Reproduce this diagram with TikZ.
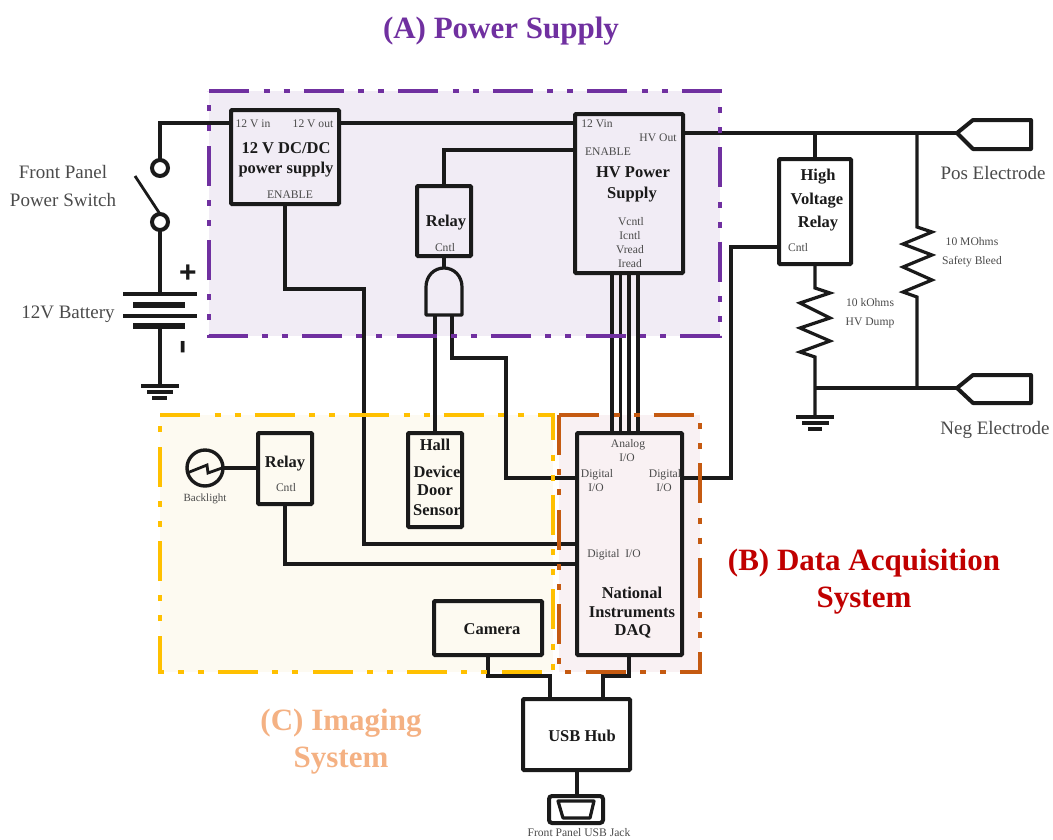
\documentclass[tikz,border=0pt]{standalone}
\usepackage{fontspec}
\setmainfont{Liberation Serif}
\setsansfont{Liberation Sans}
\definecolor{pA}{HTML}{7030A0}
\definecolor{pB}{HTML}{C00000}
\definecolor{pC}{HTML}{F4B183}
\definecolor{sY}{HTML}{FFC000}
\definecolor{sO}{HTML}{C55A11}
\definecolor{fP}{HTML}{F1ECF5}
\definecolor{fY}{HTML}{FDFAF1}
\definecolor{fO}{HTML}{F9F1F3}
\definecolor{ink}{HTML}{1A1A1A}
\definecolor{soft}{HTML}{4A4A4A}
\tikzset{
  wire/.style={draw=ink,line width=3.2pt,line join=miter},
  heavy/.style={draw=ink,line width=6pt},
  boxn/.style={draw=ink,line width=4pt,rounded corners=1pt,inner sep=0pt,outer sep=0pt,rectangle},
  region/.style={line width=4.8pt,dash pattern=on 40pt off 14.5pt on 6pt off 14pt on 6pt off 14pt},
  small/.style={inner sep=0pt,text=soft,text height=8pt,text depth=.5pt,font=\fontsize{11.6}{12}\selectfont},
  big/.style={inner sep=0pt,text=ink,text height=11.5pt,text depth=.7pt,font=\fontsize{16.5}{17}\selectfont\bfseries},
  lab/.style={inner sep=0pt,text=soft,text height=13.3pt,text depth=.8pt,font=\fontsize{19}{20}\selectfont},
  title/.style={inner sep=0pt,text height=21.7pt,text depth=1.2pt,font=\fontsize{31}{32}\selectfont\bfseries},
}
\newcommand{\mybox}[5]{\node[boxn,minimum width={(#4-#2)*1pt},minimum height={(#5-#3)*1pt}] (#1) at ({(#2+#4)/2},{(#3+#5)/2}) {};}
\begin{document}
\begin{tikzpicture}[x=1pt,y=-1pt]
\useasboundingbox (0,0) rectangle (1053,839);
% region fills
\fill[fP] (209,91) rectangle (720,336);
\fill[fY] (160,415) rectangle (553,672);
\fill[fO] (559,415) rectangle (700,672);
% boxes
\mybox{dc}{231}{110}{339}{204}
\mybox{hv}{575}{114}{683}{273}
\mybox{rel}{417}{186}{471}{256}
\mybox{hall}{408}{433}{462}{527}
\mybox{relb}{258}{433}{312}{504}
\mybox{cam}{434}{601}{542}{655}
\mybox{daq}{577}{433}{682}{655}
\mybox{hub}{523}{699}{630}{770}
\mybox{hvr}{779}{159}{851}{264}
\node[boxn,rounded corners=3pt,minimum width=54pt,minimum height=27pt] (jack) at (576,809.5) {};
% switch
\node[circle,draw=ink,line width=4pt,minimum size=16pt,inner sep=0pt,outer sep=0pt] (swt) at (160,168) {};
\node[circle,draw=ink,line width=4pt,minimum size=16pt,inner sep=0pt,outer sep=0pt] (swb) at (160,222) {};
\coordinate (armtop) at (135,176);
\draw[wire,line width=2.8pt] (armtop) -- (swb.north);
\coordinate (batp) at (160,294);
\coordinate (batn) at (160,326);
\coordinate (gndl) at (160,386);
\draw[wire] (swb.south) -- (batp);
\draw[wire] (123,294) -- (197,294);
\draw[heavy] (133,305) -- (185,305);
\draw[wire] (123,316) -- (197,316);
\draw[heavy] (133,326) -- (185,326);
\draw[wire] (batn) -- (gndl);
\draw[wire] (141,386) -- (179,386);
\draw[wire] (147,392) -- (173,392);
\draw[wire] (152,398) -- (167,398);
% power wiring
\draw[wire] (swt.north) -- (160,123) -- (dc.west |- 0,123);
\draw[wire] (dc.east |- 0,123) -- (hv.west |- 0,123);
\draw[wire] (hv.west |- 0,150) -- (444,150) -- (rel.north -| 444,0);
\draw[wire] (285,204) -- (285,289) -- (364,289) -- (364,544) -- (daq.west |- 0,544);
\draw[wire] (285,504) -- (285,564) -- (daq.west |- 0,564);
% AND gate
\draw[wire] (rel.south -| 444,0) -- (444,268);
\draw[wire,line join=round,fill=none] (426,315) -- (426,287) .. controls (426,276) and (434,268) .. (444,268) .. controls (454,268) and (462,276) .. (462,287) -- (462,315) -- cycle;
\draw[wire] (435,315) -- (hall.north -| 435,0);
\draw[wire] (452,315) -- (452,358) -- (506,358) -- (506,478) -- (daq.west |- 0,478);
\foreach \xx in {612,620.5,629,638}{\draw[wire] (hv.south -| \xx,0) -- (daq.north -| \xx,0);}
% backlight
\node[circle,draw=ink,line width=3.4pt,minimum size=36pt,inner sep=0pt,outer sep=0pt] (lamp) at (205,468) {};
\draw[wire,line width=2.8pt] (187,473) -- (207,465) -- (208,473) -- (222,468);
\draw[wire] (lamp.east) -- (relb.west |- lamp.east);
% USB
\draw[wire] (cam.south -| 488,0) -- (488,676) -- (550,676) -- (hub.north -| 550,0);
\draw[wire] (daq.south -| 629,0) -- (629,676) -- (603,676) -- (hub.north -| 603,0);
\draw[wire] (hub.south -| 577,0) -- (jack.north -| 577,0);
\draw[wire,line join=round] (558,801) -- (594,801) -- (590,818) -- (563,818) -- cycle;
% high-voltage side
\coordinate (posj) at (815,133);
\coordinate (bleedtop) at (917,133);
\node[draw=none,inner sep=0pt,minimum size=0pt] (pos) at (957,133) {};
\node[draw=none,inner sep=0pt,minimum size=0pt] (neg) at (957,388) {};
\draw[wire,line width=4pt,line join=round] (pos.center) -- (973,120) -- (1031,120) -- (1031,149) -- (973,149) -- cycle;
\draw[wire,line width=4pt,line join=round] (neg.center) -- (973,375) -- (1031,375) -- (1031,403) -- (973,403) -- cycle;
\draw[wire] (hv.east |- 0,133) -- (pos.center);
\draw[wire] (posj) -- (hvr.north -| posj);
\draw[wire] (hvr.south -| posj) -- (815,288) -- (830,293) -- (800,303) -- (830,318) -- (800,328) -- (830,341) -- (800,352) -- (815,357) -- (815,417);
\draw[wire] (bleedtop) -- (917,227) -- (932,232) -- (903,244) -- (932,255) -- (903,267) -- (932,280) -- (903,292) -- (917,297) -- (917,388);
\draw[wire] (815,388) -- (neg.center);
\draw[wire] (796,417) -- (834,417);
\draw[wire] (802,423) -- (829,423);
\draw[wire] (808,429) -- (822,429);
\draw[wire] (hvr.west |- 0,247) -- (731,247) -- (731,478) -- (daq.east |- 0,478);
% region strokes
\draw[region,draw=pA] (209,91) -- (720,91) -- (720,336) -- (209,336) -- cycle;
\draw[region,draw=sY] (160,415) -- (553,415) -- (553,672) -- (160,672) -- cycle;
\draw[region,draw=sO] (559,415) -- (700,415) -- (700,672) -- (559,672) -- cycle;
% texts
\node[title,text=pA] (tA) at (501,28) {(A) Power Supply};
\node[title,text=pB] (tB1) at (864,560) {(B) Data Acquisition};
\node[title,text=pB] (tB2) at (864,597) {System};
\node[title,text=pC] (tC1) at (341,720) {(C) Imaging};
\node[title,text=pC] (tC2) at (341,757) {System};
\node[lab] (l1) at (63,172) {Front Panel};
\node[lab] (l2) at (63,200) {Power Switch};
\node[lab] (l3) at (68,312) {12V Battery};
\node[inner sep=0pt,text=ink,font=\fontsize{30}{30}\selectfont\sffamily\bfseries] (plus) at (188,274) {+};
\node[inner sep=0pt,text=ink,rotate=90,font=\fontsize{44}{44}\selectfont\bfseries] (minus) at (187,347) {-};
\node[small] at (253,124) {12 V in};
\node[small] at (313,124) {12 V out};
\node[big] at (286,148) {12 V DC/DC};
\node[big] at (286,168) {power supply};
\node[small] at (290,195) {ENABLE};
\node[small] at (597,124) {12 Vin};
\node[small] at (658,138) {HV Out};
\node[small] at (608,152) {ENABLE};
\node[big] at (633,172) {HV Power};
\node[big] at (632,193) {Supply};
\node[small] at (631,222) {Vcntl};
\node[small] at (630,236) {Icntl};
\node[small] at (630,250) {Vread};
\node[small] at (630,264) {Iread};
\node[big] at (446,221) {Relay};
\node[small] at (445,248) {Cntl};
\node[big] at (285,462) {Relay};
\node[small] at (286,488) {Cntl};
\node[small,font=\fontsize{11}{12}\selectfont] at (205,498) {Backlight};
\node[big] at (435,445) {Hall};
\node[big] at (437,472) {Device};
\node[big] at (435,490) {Door};
\node[big] at (437,510) {Sensor};
\node[big] at (492,629) {Camera};
\node[small] at (628,444) {Analog};
\node[small] at (627,458) {I/O};
\node[small] at (597,474) {Digital};
\node[small] at (596,488) {I/O};
\node[small] at (665,474) {Digital};
\node[small] at (664,488) {I/O};
\node[small] at (614,554) {Digital\ \ I/O};
\node[big] at (632,593) {National};
\node[big] at (632,612) {Instruments};
\node[big] at (633,630) {DAQ};
\node[big] at (582,736) {USB Hub};
\node[small] at (579,833) {Front Panel USB Jack};
\node[big] at (818,175) {High};
\node[big] at (817,199) {Voltage};
\node[big] at (818,222) {Relay};
\node[small] at (798,248) {Cntl};
\node[small] at (972,242) {10 MOhms};
\node[small] at (972,261) {Safety Bleed};
\node[small] at (870,303) {10 kOhms};
\node[small] at (870,322) {HV Dump};
\node[lab] at (993,173) {Pos Electrode};
\node[lab] at (995,428) {Neg Electrode};
\end{tikzpicture}
\end{document}
